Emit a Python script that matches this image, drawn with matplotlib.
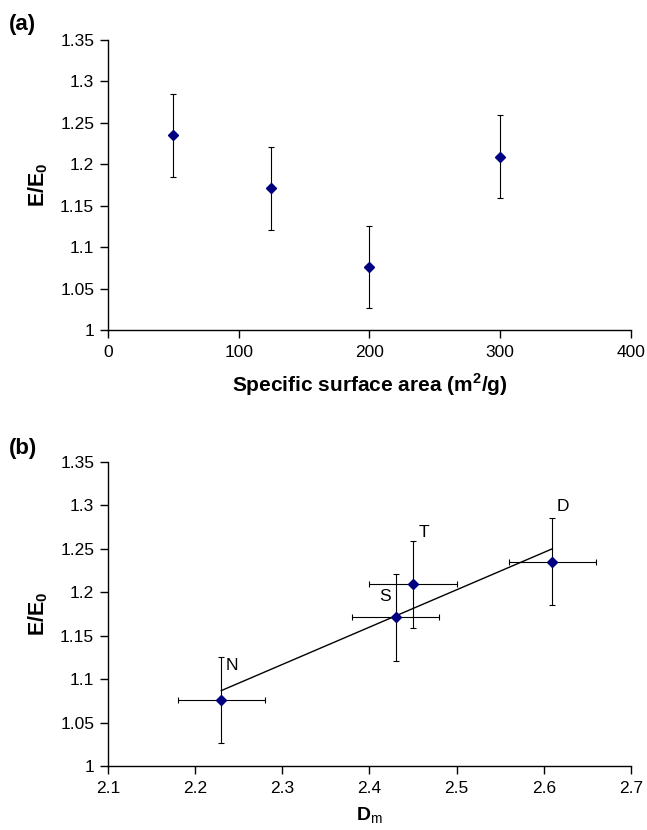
import matplotlib
matplotlib.use("Agg")
import matplotlib.pyplot as plt
import numpy as np

plt.rcParams['font.family'] = ['Liberation Sans', 'DejaVu Sans']
plt.rcParams['mathtext.fontset'] = 'custom'
plt.rcParams['mathtext.rm'] = 'Liberation Sans'
plt.rcParams['mathtext.bf'] = 'Liberation Sans:bold'

# data panel (a)
area = [50, 125, 200, 300]
ratio = [1.235, 1.171, 1.076, 1.209]
ratio_err = [0.05, 0.05, 0.05, 0.05]

# data panel (b)
dm = [2.23, 2.43, 2.45, 2.61]
ratio_b = [1.076, 1.171, 1.209, 1.235]
dm_err = [0.05, 0.05, 0.05, 0.05]
ratio_b_err = [0.05, 0.05, 0.05, 0.05]
names = ["N", "S", "T", "D"]
name_offsets = [(11, 34), (-11, 21), (11, 52), (10, 55)]  # pixels

yticks = [1, 1.05, 1.1, 1.15, 1.2, 1.25, 1.3, 1.35]
yticklabels = ["1", "1.05", "1.1", "1.15", "1.2", "1.25", "1.3", "1.35"]

fig = plt.figure(figsize=(6.47, 8.30), dpi=100)
ax1 = fig.add_axes([0.167, 0.6024, 0.808, 0.3494])
ax2 = fig.add_axes([0.167, 0.0771, 0.808, 0.3663])

navy = "#000080"


def style(ax):
    for s in ["top", "right"]:
        ax.spines[s].set_visible(False)
    for s in ["left", "bottom"]:
        ax.spines[s].set_linewidth(1.0)
    ax.tick_params(direction="out", length=6, width=1, labelsize=12.5)
    ax.tick_params(axis="x", pad=5)
    ax.tick_params(axis="y", pad=4)
    ax.set_ylim(1, 1.35)
    ax.set_yticks(yticks)
    ax.set_yticklabels(yticklabels)
    ax.set_ylabel(r"E/E$_\mathbf{0}$", fontsize=15.5, fontweight="bold", labelpad=7)


# (a)
ax1.errorbar(area, ratio, yerr=ratio_err, fmt="D", color=navy, ms=5.5,
             ecolor="black", elinewidth=0.8, capsize=2.5, capthick=0.8)
style(ax1)
ax1.set_xlim(0, 400)
ax1.set_xticks([0, 100, 200, 300, 400])
ax1.set_xlabel(r"Specific surface area (m$^\mathbf{2}$/g)", fontsize=15,
               fontweight="bold", labelpad=8)
fig.text(0.013, 0.970, "(a)", fontsize=16, fontweight="bold", va="center")

# (b)
slope, icpt = np.polyfit(dm, ratio_b, 1)
xs = np.array([min(dm), max(dm)])
ax2.plot(xs, slope * xs + icpt, color="black", lw=1.0)
ax2.errorbar(dm, ratio_b, xerr=dm_err, yerr=ratio_b_err, fmt="D", color=navy,
             ms=5.5, ecolor="black", elinewidth=0.8, capsize=2.5, capthick=0.8)
for x, y, n, off in zip(dm, ratio_b, names, name_offsets):
    ax2.annotate(n, (x, y), xytext=off, textcoords="offset pixels",
                 ha="center", va="center", fontsize=12.5)
style(ax2)
ax2.set_xlim(2.1, 2.7)
ax2.set_xticks([2.1, 2.2, 2.3, 2.4, 2.5, 2.6, 2.7])
ax2.set_xticklabels(["2.1", "2.2", "2.3", "2.4", "2.5", "2.6", "2.7"])
ax2.set_xlabel(r"D$_\mathrm{m}$", fontsize=14, fontweight="bold", labelpad=7)
fig.text(0.013, 0.460, "(b)", fontsize=16, fontweight="bold", va="center")

fig.savefig("out.png", dpi=100)
